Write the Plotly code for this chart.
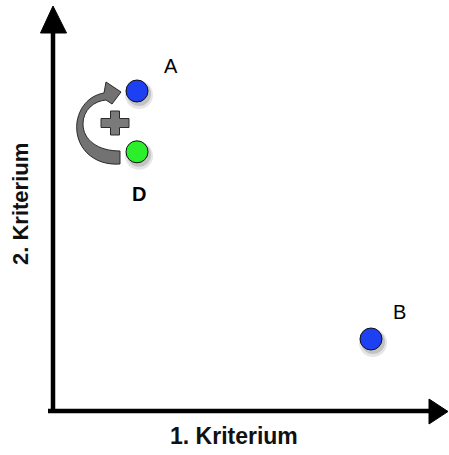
import plotly.graph_objects as go

# ---- data ----
names = ["A", "B", "D"]
crit1 = [2.1, 7.95, 2.1]
crit2 = [8.0, 1.8, 6.48]
colors = ["#1c40f2", "#1c40f2", "#2bef2b"]
label_bold = [False, False, True]

x_title = "1. Kriterium"
y_title = "2. Kriterium"

# ---- geometry helpers (pixel -> data for decorations) ----
W, H = 449, 455
OX, OY, S = 53, 411, 40.0


def X(px):
    return (px - OX) / S


def Y(py):
    return (OY - py) / S


def P(pts, close=True):
    s = ""
    for i, (a, b) in enumerate(pts):
        s += ("M" if i == 0 else "L") + f"{X(a):.4f},{Y(b):.4f}"
    return s + ("Z" if close else "")


fig = go.Figure()

# soft shadows
for off, op, sz in [((2, 4), 0.10, 28), ((2, 3), 0.15, 24)]:
    fig.add_trace(go.Scatter(
        x=[c + off[0] / S for c in crit1], y=[c - off[1] / S for c in crit2],
        mode="markers", hoverinfo="skip",
        marker=dict(size=sz, color=f"rgba(0,0,0,{op})", line=dict(width=0)),
        showlegend=False))

fig.add_trace(go.Scatter(
    x=crit1, y=crit2, mode="markers", text=names, showlegend=False,
    marker=dict(size=22, color=colors, line=dict(color="#111111", width=1))))

shapes = []
# y axis
shapes.append(dict(type="line", x0=X(53), y0=Y(413), x1=X(53), y1=Y(30),
                   line=dict(color="black", width=4.5)))
shapes.append(dict(type="path", path=P([(40.5, 33), (53, 6), (66.5, 33)]),
                   fillcolor="black", line=dict(color="black", width=1)))
# x axis
shapes.append(dict(type="line", x0=X(48), y0=Y(411), x1=X(432), y1=Y(411),
                   line=dict(color="black", width=4.5)))
shapes.append(dict(type="path", path=P([(429, 399), (448, 411.5), (429, 424)]),
                   fillcolor="black", line=dict(color="black", width=1)))

# curved arrow (from D towards A)
def c(a, b):
    return f"{X(a):.4f},{Y(b):.4f}"

arrow = (f"M{c(120,164)} C{c(92,166)} {c(74,146)} {c(77,122)} "
         f"C{c(80,104)} {c(92,95)} {c(104,93)} "
         f"L{c(106,82)} L{c(121,92)} L{c(112,104)} L{c(106,100)} "
         f"C{c(94,101)} {c(83,110)} {c(83,124)} "
         f"C{c(83,140)} {c(98,151)} {c(120,151)} Z")
shapes.append(dict(type="path", path=arrow, fillcolor="#727272",
                   line=dict(color="#2a2a2a", width=1)))

# plus sign
pc = (115, 123)
a, t = 14, 4.5
plus = [(pc[0]-t, pc[1]-12), (pc[0]+t, pc[1]-12), (pc[0]+t, pc[1]-t),
        (pc[0]+a, pc[1]-t), (pc[0]+a, pc[1]+t), (pc[0]+t, pc[1]+t),
        (pc[0]+t, pc[1]+12), (pc[0]-t, pc[1]+12), (pc[0]-t, pc[1]+t),
        (pc[0]-a, pc[1]+t), (pc[0]-a, pc[1]-t), (pc[0]-t, pc[1]-t)]
shapes.append(dict(type="path", path=P(plus), fillcolor="#7a7a7a",
                   line=dict(color="#2a2a2a", width=1)))

annotations = []
offsets = {"A": (34, -25), "B": (28, -27), "D": (2, 42)}
for n, cx, cy, b in zip(names, crit1, crit2, label_bold):
    dx, dy = offsets[n]
    annotations.append(dict(
        x=cx, y=cy, xref="x", yref="y", text=f"<b>{n}</b>" if b else n,
        showarrow=False, xshift=dx, yshift=-dy,
        font=dict(family="Liberation Sans, Arial", size=20, color="black")))

annotations.append(dict(x=X(234), y=Y(436), xref="x", yref="y",
                        text=f"<b>{x_title}</b>", showarrow=False,
                        font=dict(family="Liberation Sans, Arial", size=23, color="#111")))
annotations.append(dict(x=X(20), y=Y(204), xref="x", yref="y",
                        text=f"<b>{y_title}</b>", showarrow=False, textangle=-90,
                        font=dict(family="Liberation Sans, Arial", size=22, color="#111")))

fig.update_layout(
    width=W, height=H, autosize=False,
    margin=dict(l=0, r=0, t=0, b=0),
    paper_bgcolor="white", plot_bgcolor="white",
    xaxis=dict(range=[X(0), X(W)], visible=False, fixedrange=True),
    yaxis=dict(range=[Y(H), Y(0)], visible=False, fixedrange=True),
    shapes=shapes, annotations=annotations,
)

fig.write_html("out.html", config={"displayModeBar": False},
               post_script="document.body.style.margin='0';")
